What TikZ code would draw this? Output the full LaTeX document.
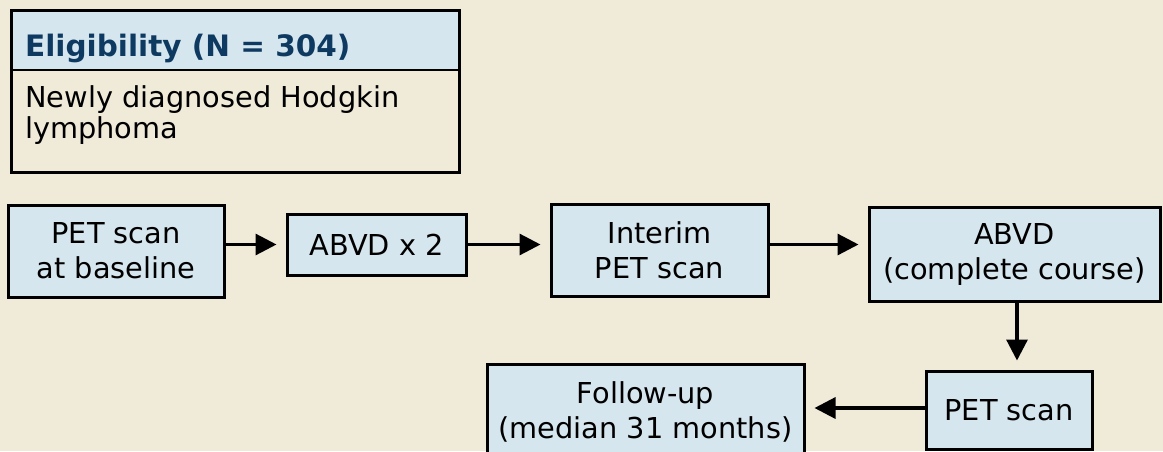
\documentclass[tikz,border=0pt]{standalone}
\usepackage{fontspec}
\setmainfont{DejaVu Sans}
\usetikzlibrary{arrows.meta,calc}
\definecolor{bg}{HTML}{F0EAD9}
\definecolor{boxfill}{HTML}{D6E6EE}
\definecolor{headblue}{HTML}{0E3A62}
\tikzset{
  stepbox/.style={draw=black, line width=3pt, fill=boxfill, rectangle, inner sep=0pt,
    align=center, font=\fontsize{28.8}{35}\selectfont},
  flow/.style={line width=3.2pt, -{Triangle[length=21pt,width=21pt]}, shorten >=9pt}
}
\begin{document}
\begin{tikzpicture}[x=1pt,y=-1pt]
\useasboundingbox (0,0) rectangle (1163,451);
\clip (0,0) rectangle (1163,451);
\fill[bg] (0,0) rectangle (1163,451);
% eligibility box
\fill[boxfill] (11,10) rectangle (459,70);
\draw[line width=3pt] (11,10) rectangle (459,172);
\draw[line width=2.5pt] (11,70) -- (459,70);
\node[anchor=west, inner sep=0pt, text=headblue, font=\fontsize{29.5}{31}\selectfont\bfseries] (elighead) at (25,48) {Eligibility (N = 304)};
\node[anchor=north west, inner sep=0pt, align=left, font=\fontsize{28.8}{31}\selectfont] (eligbody) at (25,85) {Newly diagnosed Hodgkin\\lymphoma};
% flow boxes
\node[stepbox, minimum width=216pt, minimum height=92pt] (base) at (116,251) {PET scan\\at baseline};
\node[stepbox, minimum width=179pt, minimum height=61pt] (abvdtwo) at (376.5,244.5) {ABVD x 2};
\node[stepbox, minimum width=217pt, minimum height=92pt] (interim) at (659.5,250) {Interim\\PET scan};
\node[stepbox, minimum width=291pt, minimum height=94pt] (abvdc) at (1014.5,254) {ABVD\\(complete course)};
\node[stepbox, minimum width=166pt, minimum height=78pt] (pet) at (1009,410) {PET scan};
\node[stepbox, minimum width=317pt, minimum height=110pt] (follow) at (645.5,419) {};
\node[inner sep=0pt, align=center, font=\fontsize{28.8}{35}\selectfont] (followtxt) at (645.5,412) {Follow-up\\(median 31 months)};
% connectors
\draw[flow] (base.east |- abvdtwo.center) -- (abvdtwo.west);
\draw[flow] (abvdtwo.east) -- (interim.west |- abvdtwo.center);
\draw[flow] (interim.east |- abvdtwo.center) -- (abvdc.west |- abvdtwo.center);
\draw[flow] ($(abvdc.south)+(2.5,0)$) -- ($(abvdc.south |- pet.north)+(2.5,0)$);
\draw[flow] (pet.west |- 0,408) -- (follow.east |- 0,408);
\end{tikzpicture}
\end{document}
